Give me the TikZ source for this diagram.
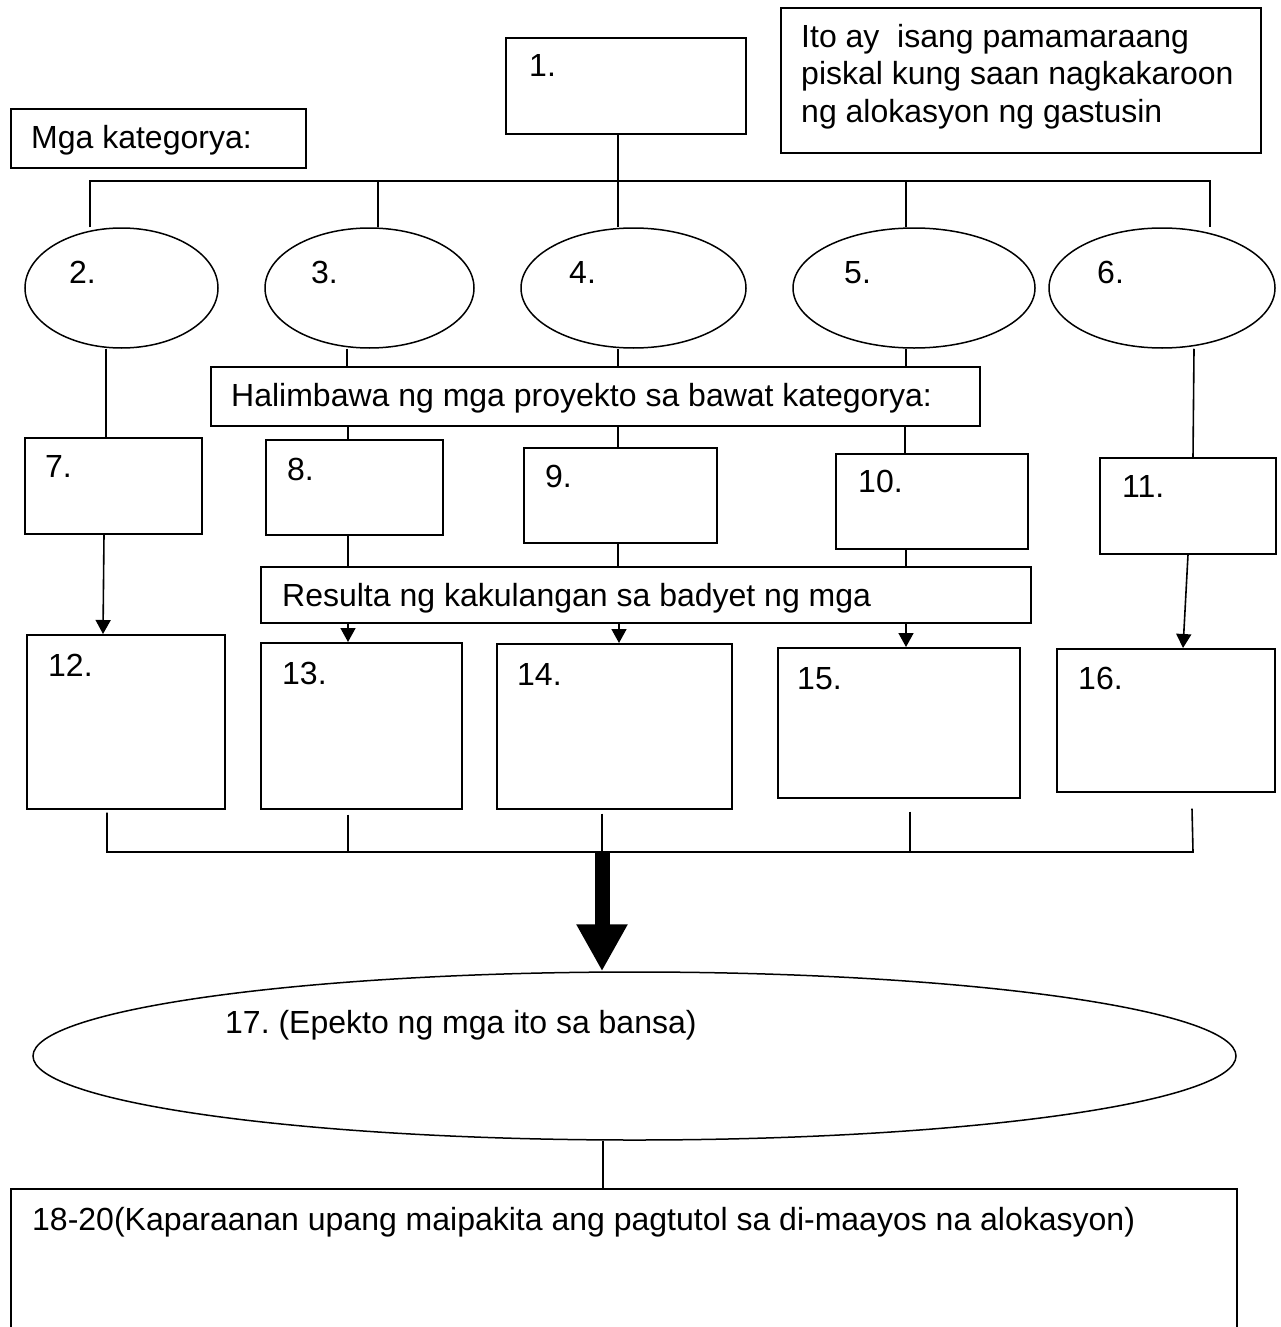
\documentclass[tikz,border=0pt]{standalone}
\usepackage{fontspec}
\setmainfont{Liberation Sans}
\usetikzlibrary{shapes.geometric,arrows.meta}
\frenchspacing
\begin{document}
\begin{tikzpicture}[x=1pt,y=-1pt,
  box/.style={draw, line width=1.6pt, rectangle, inner sep=0pt, anchor=north west},
  oval/.style={draw, line width=1.5pt, ellipse, inner sep=0pt},
  lbl/.style={anchor=base west, inner sep=0pt, font=\fontsize{32}{37}\selectfont},
  conn/.style={line width=1.6pt},
  arr/.style={line width=1.6pt, -{Triangle[width=15pt,length=14pt]}},
  bigarr/.style={line width=15pt, -{Triangle[width=48pt,length=47pt]}},
]
\clip (0,0) rectangle (1280,1327);
\fill[white] (0,0) rectangle (1280,1327);

% top boxes
\node[box,minimum width=295,minimum height=59] (kat) at (10,108) {};
\node[lbl] (katt) at (31,148) {Mga kategorya:};
\node[box,minimum width=240,minimum height=96] (b1) at (505,37) {};
\node[lbl] (b1t) at (529,77) {1.};
\node[box,minimum width=480,minimum height=145] (info) at (780,7) {};
\node[lbl] (info1) at (801,48) {Ito ay~ isang pamamaraang};
\node[lbl] (info2) at (801,85) {piskal kung saan nagkakaroon};
\node[lbl] (info3) at (801,122) {ng alokasyon ng gastusin};

% ellipses
\node[oval,minimum width=193,minimum height=120] (e2) at (121.5,288) {};
\node[oval,minimum width=209,minimum height=120] (e3) at (369.5,288) {};
\node[oval,minimum width=225,minimum height=120] (e4) at (633.5,288) {};
\node[oval,minimum width=242,minimum height=120] (e5) at (914,288) {};
\node[oval,minimum width=226,minimum height=120] (e6) at (1162,288) {};
\node[lbl] (e2t) at (69,283) {2.};
\node[lbl] (e3t) at (311,283) {3.};
\node[lbl] (e4t) at (569,283) {4.};
\node[lbl] (e5t) at (844,283) {5.};
\node[lbl] (e6t) at (1097,283) {6.};

% bus from box 1
\coordinate (busL) at (90,181);
\coordinate (busR) at (1210,181);
\draw[conn] (busL |- e2.north) -- (busL) -- (busR) -- (busR |- e6.north);
\draw[conn] (b1.south -| 618,0) -- (e4.north -| 618,0);
\draw[conn] (busL -| 378,0) -- (e3.north -| 378,0);
\draw[conn] (busL -| 906,0) -- (e5.north -| 906,0);

% middle label boxes
\node[box,minimum width=769,minimum height=59] (hal) at (210,366) {};
\node[lbl] (halt) at (231,406) {Halimbawa ng mga proyekto sa bawat kategorya:};
\node[box,minimum width=770,minimum height=56] (res) at (260,566) {};
\node[lbl] (rest) at (282,606) {Resulta ng kakulangan sa badyet ng mga};

% boxes 7-11
\node[box,minimum width=177,minimum height=96] (b7) at (24,437) {};
\node[lbl] (b7t) at (45,477) {7.};
\node[box,minimum width=177,minimum height=95] (b8) at (265,439) {};
\node[lbl] (b8t) at (287,480) {8.};
\node[box,minimum width=193,minimum height=95] (b9) at (523,447) {};
\node[lbl] (b9t) at (545,487) {9.};
\node[box,minimum width=192,minimum height=95] (b10) at (835,453) {};
\node[lbl] (b10t) at (858,492) {10.};
\node[box,minimum width=176,minimum height=96] (b11) at (1099,457) {};
\node[lbl] (b11t) at (1122,497) {11.};

% boxes 12-16
\node[box,minimum width=198,minimum height=174] (b12) at (26,634) {};
\node[lbl] (b12t) at (48,676) {12.};
\node[box,minimum width=201,minimum height=166] (b13) at (260,642) {};
\node[lbl] (b13t) at (282,684) {13.};
\node[box,minimum width=235,minimum height=165] (b14) at (496,643) {};
\node[lbl] (b14t) at (517,685) {14.};
\node[box,minimum width=242,minimum height=150] (b15) at (777,647) {};
\node[lbl] (b15t) at (797,689) {15.};
\node[box,minimum width=218,minimum height=143] (b16) at (1056,648) {};
\node[lbl] (b16t) at (1078,689) {16.};

% connectors column 2/7/12
\draw[conn] (e2.south -| 106,0) -- (b7.north -| 106,0);
\draw[arr] (b7.south -| 104,0) -- (b12.north -| 103,0);
% column 3/8/13
\draw[conn] (e3.south -| 347,0) -- (hal.north -| 347,0);
\draw[conn] (hal.south -| 348,0) -- (b8.north -| 348,0);
\draw[conn] (b8.south -| 348,0) -- (res.north -| 348,0);
\draw[arr] (res.south -| 348,0) -- (b13.north -| 348,0);
% column 4/9/14
\draw[conn] (e4.south -| 618,0) -- (hal.north -| 618,0);
\draw[conn] (hal.south -| 618,0) -- (b9.north -| 618,0);
\draw[conn] (b9.south -| 618,0) -- (res.north -| 618,0);
\draw[arr] (res.south -| 619,0) -- (b14.north -| 619,0);
% column 5/10/15
\draw[conn] (e5.south -| 906,0) -- (hal.north -| 906,0);
\draw[conn] (hal.south -| 905,0) -- (b10.north -| 905,0);
\draw[conn] (b10.south -| 906,0) -- (res.north -| 906,0);
\draw[arr] (res.south -| 906,0) -- (b15.north -| 906,0);
% column 6/11/16
\draw[conn] (e6.south -| 1194,0) -- (b11.north -| 1193,0);
\draw[arr] (b11.south -| 1188,0) -- (b16.north -| 1183,0);

% bottom bus
\coordinate (bbL) at (107,852);
\coordinate (bbR) at (1193,852);
\coordinate (bbM) at (602,852);
\draw[conn] ([yshift=-3pt]b12.south -| bbL) -- (bbL) -- (bbR) -- ([yshift=-16pt]b16.south -| 1192,0);
\draw[conn] ([yshift=-5pt]b13.south -| 348,0) -- (bbL -| 348,0);
\draw[conn] ([yshift=-4pt]b14.south -| bbM) -- (bbM);
\draw[conn] ([yshift=-13pt]b15.south -| 910,0) -- (bbL -| 910,0);

% big ellipse
\node[oval,minimum width=1203,minimum height=168] (e17) at (634.5,1056) {};
\node[lbl] (e17t) at (225,1033) {17. (Epekto ng mga ito sa bansa)};
\draw[bigarr] (bbM) -- (e17.north -| bbM);

% bottom box
\node[box,minimum width=1226,minimum height=300] (bot) at (10,1188) {};
\node[lbl] (bott) at (32,1230) {18-20(Kaparaanan upang maipakita ang pagtutol sa di-maayos na alokasyon)};
\draw[conn] (e17.south -| 603,0) -- (bot.north -| 603,0);
\end{tikzpicture}
\end{document}
